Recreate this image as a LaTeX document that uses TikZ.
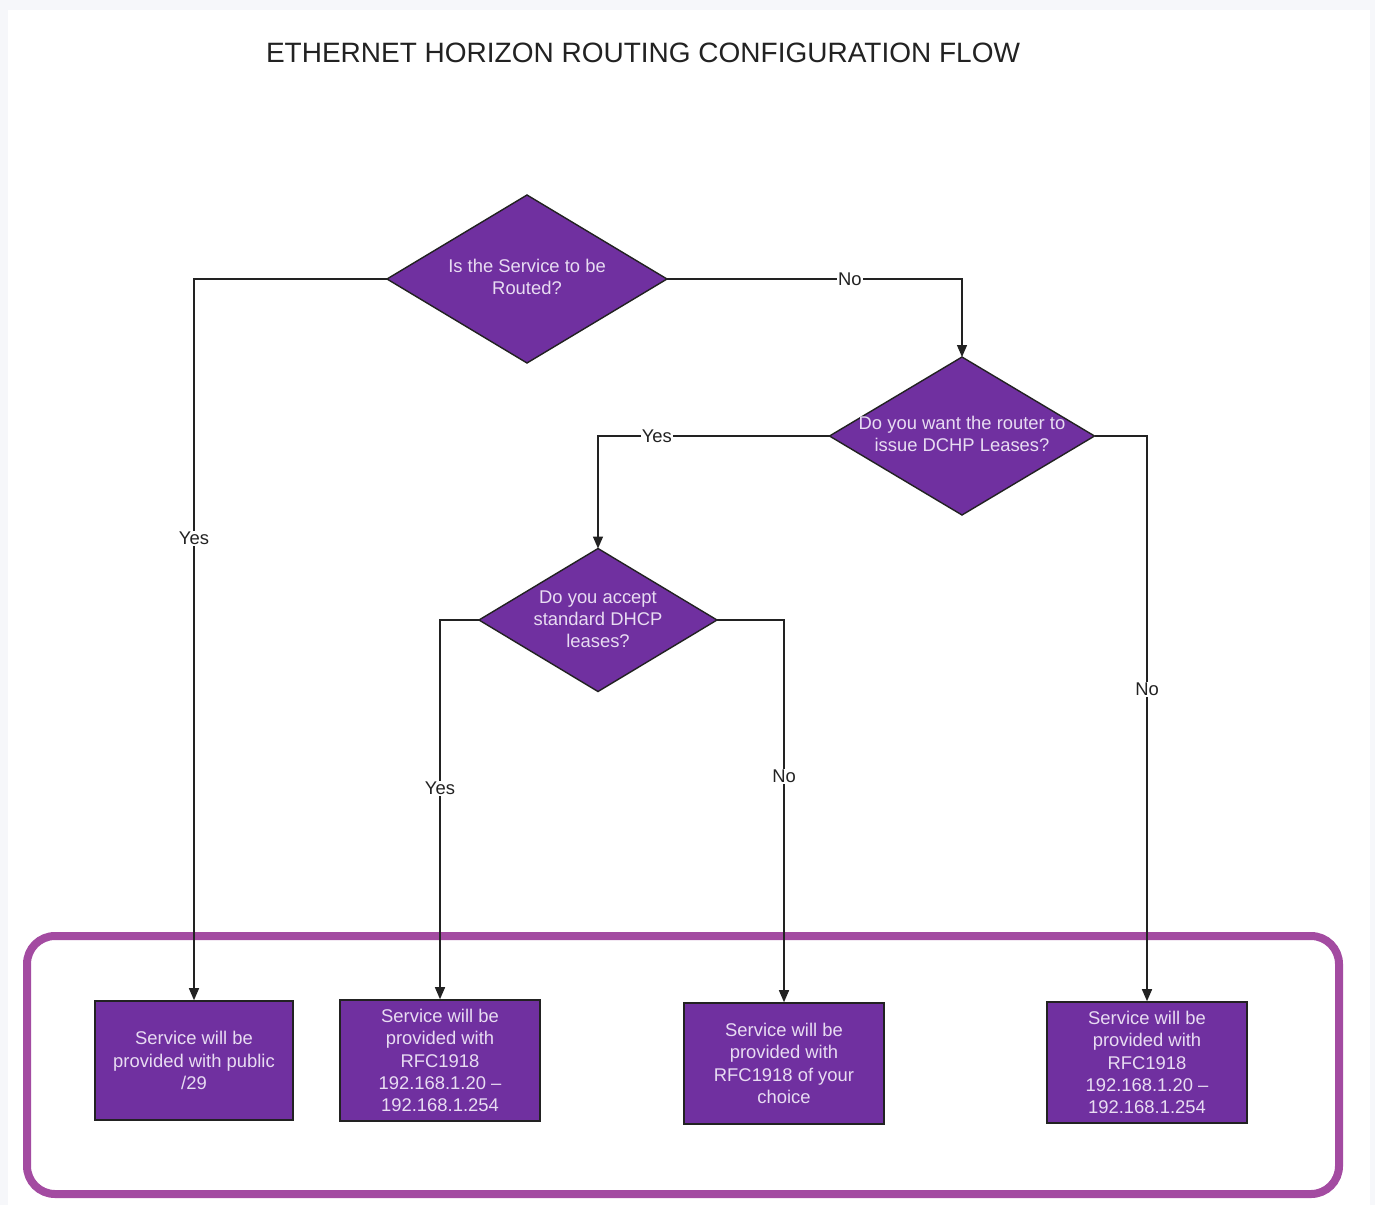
\documentclass[tikz,border=0pt]{standalone}
\usepackage{fontspec}
\setmainfont{Liberation Sans}
\newfontfamily\titlefont{Liberation Sans}
\usetikzlibrary{shapes.geometric,arrows.meta}
\definecolor{bgfr}{HTML}{F6F7FA}
\definecolor{shapefill}{HTML}{7030A0}
\definecolor{shapetext}{HTML}{E8DCF2}
\definecolor{framecol}{HTML}{A34BA1}
\definecolor{linecol}{HTML}{222222}
\begin{document}
\begin{tikzpicture}[x=0.5pt,y=-0.5pt,
  decision/.style={diamond, draw=linecol, line width=0.7pt, fill=shapefill, inner sep=0pt, outer sep=0pt},
  qtext/.style={text=shapetext, font=\fontsize{9.2pt}{11pt}\selectfont, align=center, inner sep=0pt},
  result/.style={rectangle, draw=linecol, line width=0.8pt, fill=shapefill, text=shapetext,
     font=\fontsize{9.2pt}{11.2pt}\selectfont, align=center, inner sep=0pt,
     minimum width=100pt, minimum height=60.5pt},
  conn/.style={draw=linecol, line width=0.7pt},
  arr/.style={conn, -{Triangle[length=6pt,width=5pt]}},
  lbl/.style={fill=white, text=linecol, font=\fontsize{9.2pt}{11pt}\selectfont, inner sep=0.5pt}]
% background
\fill[bgfr] (0,0) rectangle (1375,1205);
\fill[white] (8,10) rectangle (1370,1205);
\useasboundingbox (0,0) rectangle (1375,1205);
% title
\node[text=linecol, font=\titlefont\fontsize{14pt}{16pt}\selectfont, inner sep=0pt] (title) at (643,53) {ETHERNET HORIZON ROUTING CONFIGURATION FLOW};
% frame
\draw[framecol, line width=4pt, rounded corners=14pt] (27,936) rectangle (1339,1194);
% decisions
\node[decision, minimum width=140pt, minimum height=84pt] (d1) at (527,279) {};
\node[qtext] (d1t) at (527,277) {Is the Service to be\\Routed?};
\node[decision, minimum width=132.5pt, minimum height=79pt] (d2) at (962,436) {};
\node[qtext] (d2t) at (962,434) {Do you want the router to\\issue DCHP Leases?};
\node[decision, minimum width=119pt, minimum height=71.5pt] (d3) at (598,620) {};
\node[qtext] (d3t) at (598,619) {Do you accept\\standard DHCP\\leases?};
% results
\node[result, minimum width=99pt, minimum height=59.5pt] (b1) at (194,1060.5) {Service will be\\provided with public\\/29};
\node[result] (b2) at (440,1060.5) {Service will be\\provided with\\RFC1918\\192.168.1.20 –\\192.168.1.254};
\node[result] (b3) at (784,1063.5) {Service will be\\provided with\\RFC1918 of your\\choice};
\node[result] (b4) at (1147,1062.5) {Service will be\\provided with\\RFC1918\\192.168.1.20 –\\192.168.1.254};
% connectors
\draw[arr] (d1.west) -| (b1.north) node[lbl, pos=0.68] {Yes};
\draw[arr] (d1.east) -| (d2.north) node[lbl, pos=0.31] {No};
\draw[arr] (d2.west) -| (d3.north) node[lbl, pos=0.373] {Yes};
\draw[arr] (d2.east) -| (b4.north) node[lbl, pos=0.724] {No};
\draw[arr] (d3.west) -| (b2.north) node[lbl, pos=0.722] {Yes};
\draw[arr] (d3.east) -| (b3.north) node[lbl, pos=0.705] {No};
\end{tikzpicture}
\end{document}
